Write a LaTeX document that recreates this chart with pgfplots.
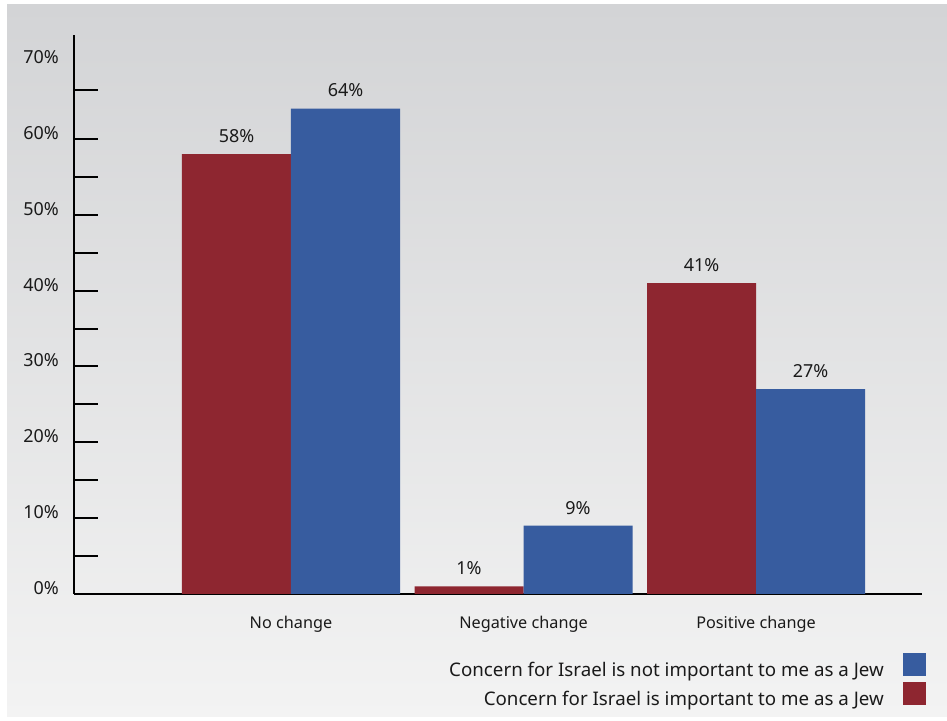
\documentclass[border=0pt]{standalone}
\usepackage{fontspec}
\setmainfont{Noto Sans}
\usepackage{pgfplots}
\pgfplotsset{compat=1.18}
\definecolor{barred}{HTML}{8E2630}
\definecolor{barblue}{HTML}{375C9F}
\definecolor{bgtop}{HTML}{D3D4D6}
\definecolor{bgbot}{HTML}{F3F3F3}
\definecolor{txt}{HTML}{1A1A1A}
\begin{document}
\begin{tikzpicture}[x=1bp,y=1bp]
\useasboundingbox (0,0) rectangle (947,721);
\fill[white] (0,0) rectangle (947,721);
\shade[top color=bgtop, bottom color=bgbot] (7,4) rectangle (947,716);
\begin{axis}[
  at={(74bp,127bp)}, anchor=south west,
  scale only axis, width=848bp, height=559bp,
  xmin=-0.9333, xmax=2.714, ymin=0, ymax=73.7,
  ybar=0pt, bar width=109bp,
  axis x line*=bottom, axis y line*=left,
  axis line style={-, line width=2.5bp, black},
  /pgf/number format/assume math mode=true,
  major tick length=0pt,
  tick align=inside,
  xtick={0,1,2},
  xticklabels={No change, Negative change, Positive change},
  xticklabel style={anchor=base, inner sep=0pt, yshift=-35bp, font=\fontsize{16.3}{19}\selectfont, text=txt},
  ytick={0,10,...,70},
  yticklabels={0\%,10\%,20\%,30\%,40\%,50\%,60\%,70\%},
  yticklabel style={anchor=east, inner sep=0pt, xshift=-15bp, yshift=6bp, font=\fontsize{18}{21}\selectfont, text=txt},
  extra y ticks={5,10,15,20,25,30,35,40,45,50,55,60,66.5},
  extra y tick labels={},
  extra y tick style={major tick length=24bp, tick align=inside, tick style={line width=2bp, black}},
  nodes near coords={\pgfmathprintnumber{\pgfplotspointmeta}\%},
  every node near coord/.append style={anchor=center, yshift=18bp, font=\fontsize{18}{21}\selectfont, text=txt},
  legend image code/.code={\fill[#1] (0bp,-6bp) rectangle (23bp,17bp);},
  reverse legend,
  legend plot pos=right,
  legend cell align=right,
  legend style={draw=none, fill=none, at={(1,0)}, anchor=north east, xshift=4bp, yshift=-59bp,
    inner sep=0pt, row sep=4bp, column sep=19bp, nodes={inner sep=0pt, text=txt},
    font=\fontsize{18.8}{22}\selectfont},
]
\addplot[fill=barred, draw=none] coordinates {(0,58) (1,1) (2,41)};
\addlegendentry{Concern for Israel is important to me as a Jew}
\addplot[fill=barblue, draw=none] coordinates {(0,64) (1,9) (2,27)};
\addlegendentry{Concern for Israel is not important to me as a Jew}
\end{axis}
\end{tikzpicture}
\end{document}
